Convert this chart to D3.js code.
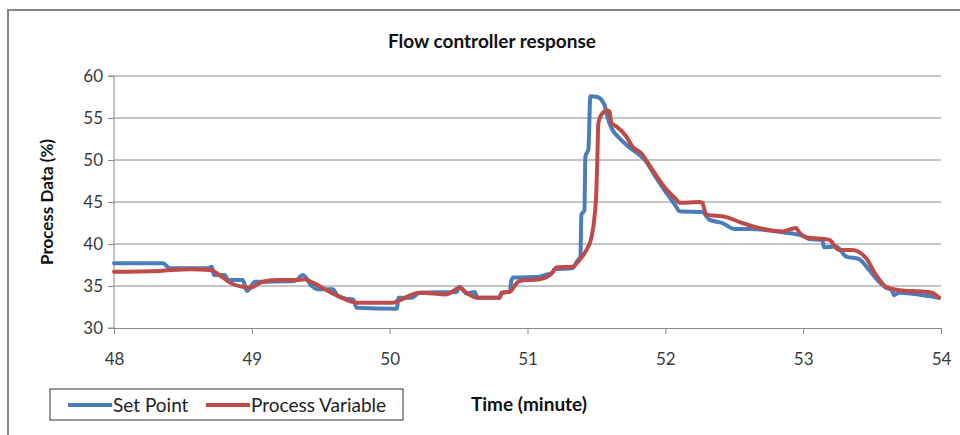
<!DOCTYPE html>
<html>
<head>
<meta charset="utf-8">
<script src="https://cdn.jsdelivr.net/npm/d3@7"></script>
<style>
  body { margin: 0; background: #fff; }
  svg { display: block; font-family: Lato, 'Open Sans', sans-serif; }
</style>
</head>
<body>
<div class="container"></div>
<script>
// tick values
const xTicks = [48, 49, 50, 51, 52, 53, 54];
const yTicks = [30, 35, 40, 45, 50, 55, 60];

// Set Point (time in minutes, value in %)
const spTime = [48.00, 48.355, 48.406, 48.681, 48.710, 48.725, 48.804, 48.826, 48.935, 48.964,
  49.022, 49.312, 49.370, 49.435, 49.478, 49.587, 49.62, 49.68, 49.735, 49.761, 50.051, 50.065,
  50.159, 50.217, 50.486, 50.507, 50.558, 50.616, 50.638, 50.797, 50.812, 50.870, 50.884, 50.899,
  51.087, 51.123, 51.174, 51.196, 51.326, 51.362, 51.384, 51.391, 51.413, 51.420, 51.442, 51.456,
  51.507, 51.558, 51.580, 51.616, 51.667, 51.739, 51.812, 51.862, 51.906, 51.957, 52.007, 52.043,
  52.080, 52.101, 52.268, 52.319, 52.413, 52.500, 52.609, 52.848, 52.993, 53.043, 53.138, 53.152,
  53.239, 53.312, 53.406, 53.478, 53.551, 53.601, 53.645, 53.659, 53.696, 53.913, 53.986];
const spValue = [37.7, 37.7, 37.1, 37.1, 37.3, 36.3, 36.3, 35.7, 35.7, 34.4,
  35.5, 35.6, 36.3, 35.0, 34.6, 34.6, 33.9, 33.5, 33.4, 32.4, 32.3, 33.6,
  33.6, 34.2, 34.3, 34.9, 34.1, 34.3, 33.6, 33.6, 34.2, 34.3, 35.7, 36.0,
  36.1, 36.3, 36.5, 37.0, 37.1, 38.0, 38.5, 43.5, 44.0, 50.4, 51.3, 57.6,
  57.5, 56.6, 55.1, 53.6, 52.6, 51.5, 50.6, 49.8, 48.6, 47.3, 46.1, 45.3,
  44.4, 43.9, 43.8, 42.9, 42.5, 41.8, 41.8, 41.4, 41.0, 40.6, 40.5, 39.6,
  39.7, 38.5, 38.2, 36.9, 35.5, 34.8, 34.5, 33.9, 34.2, 33.8, 33.6];

// Process Variable
const pvTime = [48.00, 48.333, 48.551, 48.696, 48.790, 48.841, 48.935, 48.986, 49.080, 49.181,
  49.326, 49.384, 49.442, 49.543, 49.638, 49.761, 50.022, 50.072, 50.217, 50.413, 50.507, 50.565,
  50.638, 50.797, 50.812, 50.870, 50.920, 50.942, 51.087, 51.181, 51.210, 51.326, 51.377, 51.428,
  51.464, 51.486, 51.500, 51.507, 51.514, 51.536, 51.580, 51.594, 51.609, 51.645, 51.717, 51.761,
  51.826, 51.884, 51.957, 52.007, 52.080, 52.101, 52.246, 52.268, 52.297, 52.442, 52.558, 52.659,
  52.848, 52.949, 52.971, 53.022, 53.188, 53.261, 53.355, 53.457, 53.529, 53.601, 53.696, 53.891,
  53.935, 53.986];
const pvValue = [36.7, 36.8, 37.0, 36.9, 36.0, 35.4, 34.9, 34.8, 35.5, 35.7,
  35.7, 35.8, 35.4, 34.5, 33.7, 33.0, 33.0, 33.3, 34.2, 34.0, 34.8, 34.1,
  33.6, 33.6, 34.2, 34.3, 35.3, 35.6, 35.8, 36.6, 37.2, 37.3, 38.1, 39.3,
  40.8, 43.2, 46.5, 50.4, 54.4, 55.4, 55.9, 55.8, 54.4, 54.0, 52.8, 51.6,
  50.8, 49.4, 47.6, 46.5, 45.3, 44.9, 45.0, 44.9, 43.5, 43.2, 42.5, 42.0,
  41.5, 41.9, 41.4, 40.8, 40.5, 39.3, 39.3, 38.3, 36.3, 34.9, 34.5, 34.3,
  34.2, 33.6];

const seriesNames = ['Set Point', 'Process Variable'];
const seriesColors = ['#4A7EBB', '#BE4B48'];

const renderChart = () => {
  const width = 960;
  const height = 435;
  const plot = { left: 114, right: 941, top: 76, bottom: 328 };

  const svg = d3.select('.container').append('svg').attr('width', width).attr('height', height);

  // outer chart frame (only top and left edges visible)
  svg.append('rect')
    .attr('x', 8).attr('y', 10)
    .attr('width', 1000).attr('height', 500)
    .attr('fill', 'none').attr('stroke', '#878787').attr('stroke-width', 2);

  const x = d3.scaleLinear().domain([48, 54]).range([plot.left, plot.right]);
  const y = d3.scaleLinear().domain([30, 60]).range([plot.bottom, plot.top]);

  // gridlines
  svg.append('g').attr('class', 'grid')
    .selectAll('line')
    .data(yTicks.slice(1))
    .join('line')
    .attr('x1', plot.left).attr('x2', plot.right)
    .attr('y1', d => y(d)).attr('y2', d => y(d))
    .attr('stroke', '#8a8a8a').attr('stroke-width', 1);

  // axes
  const leftAxis = d3.axisLeft(y).tickValues(yTicks).tickSize(6).tickPadding(5);
  const leftGroup = svg.append('g').attr('transform', `translate(${plot.left},0)`).call(leftAxis);
  const bottomAxis = d3.axisBottom(x).tickValues(xTicks).tickFormat(d3.format('d')).tickSize(6).tickPadding(19);
  const bottomGroup = svg.append('g').attr('transform', `translate(0,${plot.bottom})`).call(bottomAxis);

  [leftGroup, bottomGroup].forEach(g => {
    g.select('.domain').attr('stroke', '#8a8a8a');
    g.selectAll('.tick line').attr('stroke', '#8a8a8a');
    g.selectAll('.tick text')
      .attr('fill', '#3a3a3a')
      .attr('font-size', 17)
      .attr('font-family', 'Lato, sans-serif');
  });
  leftGroup.select('.domain').attr('d', `M-6,${plot.bottom}H0V${plot.top}H-6`);

  // lines
  const series = [
    { name: seriesNames[0], color: seriesColors[0], pts: spTime.map((t, i) => [t, spValue[i]]) },
    { name: seriesNames[1], color: seriesColors[1], pts: pvTime.map((t, i) => [t, pvValue[i]]) }
  ];
  const line = d3.line()
    .x(d => x(d[0]))
    .y(d => y(d[1]))
    .curve(d3.curveMonotoneX);

  svg.append('g').attr('class', 'lines')
    .selectAll('path')
    .data(series)
    .join('path')
    .attr('d', d => line(d.pts))
    .attr('fill', 'none')
    .attr('stroke', d => d.color)
    .attr('stroke-width', 4)
    .attr('stroke-linejoin', 'round')
    .attr('stroke-linecap', 'round');

  // title and axis labels
  svg.append('text')
    .text('Flow controller response')
    .attr('x', 492).attr('y', 48)
    .attr('text-anchor', 'middle')
    .attr('font-size', 19).attr('font-weight', 'bold').attr('fill', '#111');

  svg.append('text')
    .text('Process Data (%)')
    .attr('transform', `translate(53,${(plot.top + plot.bottom) / 2}) rotate(-90)`)
    .attr('text-anchor', 'middle')
    .attr('font-size', 17).attr('font-weight', 'bold').attr('fill', '#111');

  svg.append('text')
    .text('Time (minute)')
    .attr('x', 529).attr('y', 411)
    .attr('text-anchor', 'middle')
    .attr('font-size', 19).attr('font-weight', 'bold').attr('fill', '#111');

  // legend
  const legend = svg.append('g').attr('class', 'legend');
  legend.append('rect')
    .attr('x', 50).attr('y', 389).attr('width', 353).attr('height', 31)
    .attr('fill', '#fff').attr('stroke', '#333').attr('stroke-width', 1);
  const legendX = [68, 206];
  series.forEach((s, i) => {
    legend.append('line')
      .attr('x1', legendX[i]).attr('x2', legendX[i] + 44)
      .attr('y1', 405).attr('y2', 405)
      .attr('stroke', s.color).attr('stroke-width', 4);
    legend.append('text')
      .text(s.name)
      .attr('x', legendX[i] + 45).attr('y', 412)
      .attr('font-size', 19).attr('fill', '#222');
  });
};

renderChart();
</script>
</body>
</html>
